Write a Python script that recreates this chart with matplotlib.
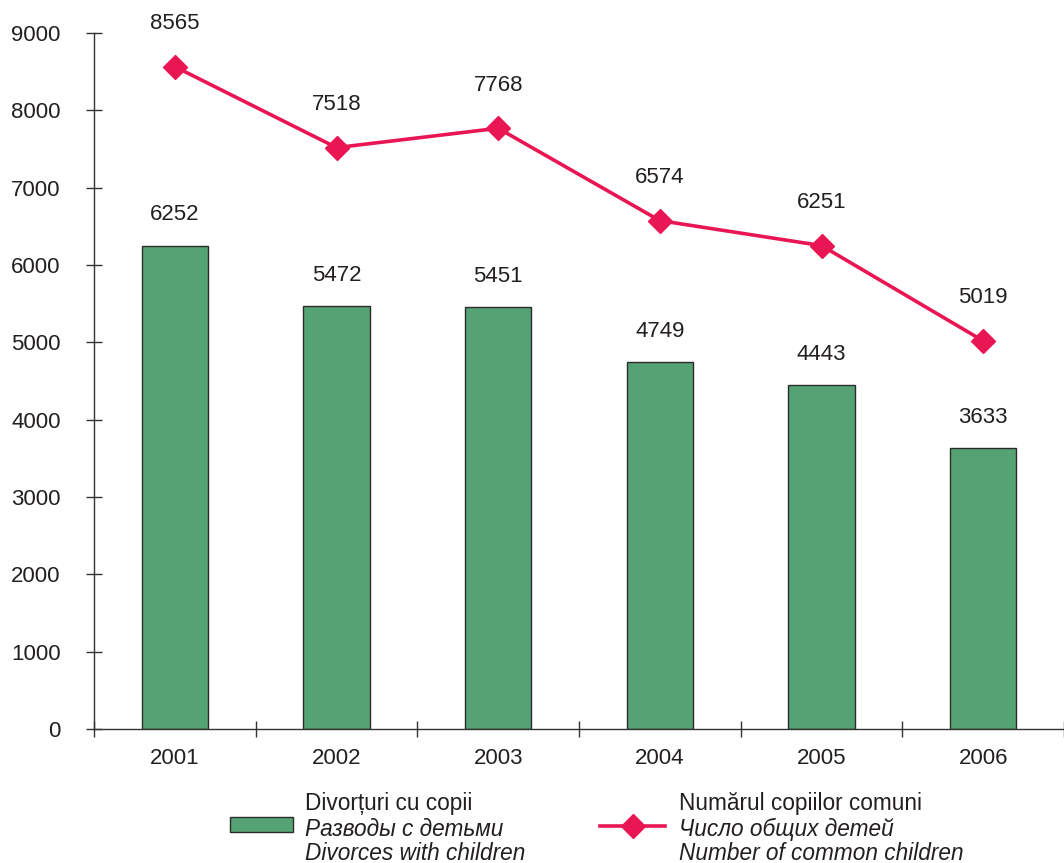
import matplotlib.pyplot as plt
from matplotlib.patches import Rectangle
from matplotlib.lines import Line2D

plt.rcParams['font.family'] = ['Liberation Sans', 'DejaVu Sans']

# Datos
years = ["2001", "2002", "2003", "2004", "2005", "2006"]
divorces = [6252, 5472, 5451, 4749, 4443, 3633]
children = [8565, 7518, 7768, 6574, 6251, 5019]

bar_color = "#55A374"
line_color = "#E91654"
text_color = "#231F20"
fs = 16

fig = plt.figure(figsize=(10.64, 8.63), dpi=100)
ax = fig.add_axes([94 / 1064, 1 - 729 / 863, 1 - 94 / 1064, (729 - 33) / 863])

x = list(range(len(years)))
ax.bar(x, divorces, width=0.41, color=bar_color, edgecolor="#2b2b2b", linewidth=1.0, zorder=2)
ax.plot(x, children, color=line_color, linewidth=2.6, marker="D", markersize=12.5, zorder=3)

# Etiquetas de valores
for xi, v in zip(x, divorces):
    ax.annotate(str(v), (xi, v), xytext=(0, 22), textcoords="offset points",
                ha="center", va="center", fontsize=fs, color=text_color)
for xi, v in zip(x, children):
    ax.annotate(str(v), (xi, v), xytext=(0, 31), textcoords="offset points",
                ha="center", va="center", fontsize=fs, color=text_color)

ax.set_xlim(-0.5, 5.46)
ax.set_ylim(0, 9000)
ax.set_yticks(range(0, 9001, 1000))
ax.set_xticks(x)
ax.set_xticklabels(years)
ax.set_xticks([i - 0.5 for i in range(len(years) + 1)], minor=True)

ax.tick_params(axis="y", direction="inout", length=12, width=1, colors="#333333",
               labelcolor=text_color, labelsize=fs, pad=18)
ax.tick_params(axis="x", which="major", length=0, labelcolor=text_color, labelsize=fs, pad=14)
ax.tick_params(axis="x", which="minor", direction="inout", length=12, width=1, colors="#333333")

for s in ["top", "right"]:
    ax.spines[s].set_visible(False)
for s in ["left", "bottom"]:
    ax.spines[s].set_color("#333333")
    ax.spines[s].set_linewidth(1)
ax.spines["left"].set_bounds(0, 9000)

# Leyenda manual
fig.patches.append(Rectangle((230 / 1064, 1 - 832 / 863), 63 / 1064, 15 / 863,
                             transform=fig.transFigure, facecolor=bar_color,
                             edgecolor="#2b2b2b", linewidth=1.0))
fig.lines.append(Line2D([600 / 1064, 665 / 1064], [1 - 826 / 863, 1 - 826 / 863],
                        transform=fig.transFigure, color=line_color, linewidth=2.6))
fig.lines.append(Line2D([633 / 1064], [1 - 826 / 863], transform=fig.transFigure,
                        color=line_color, marker="D", markersize=12.5, linestyle="none"))

left_lines = [("Divorțuri cu copii", "normal"), ("Разводы с детьми", "italic"),
              ("Divorces with children", "italic")]
right_lines = [("Numărul copiilor comuni", "normal"), ("Число общих детей", "italic"),
               ("Number of common children", "italic")]
ys = [803, 829, 853]
for (t, st), yy in zip(left_lines, ys):
    fig.text(305 / 1064, 1 - yy / 863, t, fontsize=16.3, style=st, color=text_color,
             ha="left", va="center")
for (t, st), yy in zip(right_lines, ys):
    fig.text(679 / 1064, 1 - yy / 863, t, fontsize=16.3, style=st, color=text_color,
             ha="left", va="center")

fig.savefig("out.png", dpi=100)
